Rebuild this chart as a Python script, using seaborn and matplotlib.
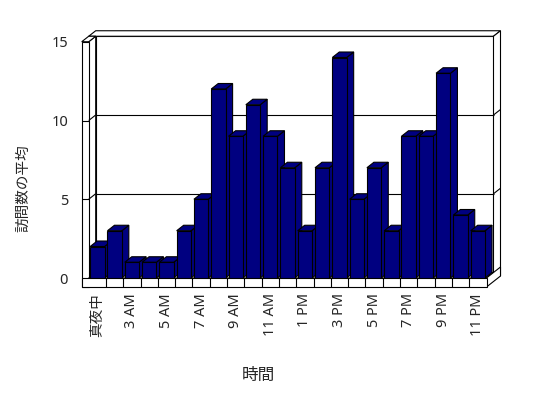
import matplotlib
matplotlib.use("Agg")
import matplotlib.pyplot as plt
from matplotlib.patches import Polygon
import seaborn as sns

# データ: 時間帯ごとの訪問数の平均
hour_labels = (["真夜中"] + [f"{h} AM" for h in range(2, 12)] + ["正午"]
               + [f"{h} PM" for h in range(1, 12)])
visits = [2, 3, 1, 1, 1, 3, 5, 12, 9, 11, 9, 7, 3, 7, 14, 5, 7, 3, 9, 9, 13, 4, 3]
y_ticks = [0, 5, 10, 15]

sns.set_style("white")
plt.rcParams["font.family"] = ["Noto Sans", "Noto Sans CJK JP", "DejaVu Sans"]

# レイアウト (ピクセル)
W, H = 548, 398
L, R, B, T = 88.7, 486.5, 278, 41.75
NAVY = "#000080"
LW = 0.8

fig = plt.figure(figsize=(W / 100, H / 100), dpi=100)
ax = fig.add_axes([L / W, 1 - B / H, (R - L) / W, (B - T) / H])

n = len(visits)
ymax = y_ticks[-1]
px_x = (R - L) / n
px_y = (B - T) / ymax
ddx, ddy = 7 / px_x, 5.5 / px_y      # 奥行き方向のずれ
tw = 7 / px_x                         # 左の壁の厚さ
ft = 9 / px_y                         # 床の厚さ

xl, xr, yt = -0.5, n - 0.5, ymax
xo = xl - tw


def face(pts, fc="white", z=0.2):
    ax.add_patch(Polygon(pts, closed=True, facecolor=fc, edgecolor="black",
                         lw=LW, clip_on=False, zorder=z, joinstyle="miter"))


def line(xs, ys, z=0.3):
    ax.plot(xs, ys, color="black", lw=LW, clip_on=False, zorder=z,
            solid_capstyle="butt")


# 棒
sns.barplot(x=hour_labels, y=visits, order=hour_labels, color=NAVY,
            saturation=1, edgecolor="black", linewidth=LW, width=0.83, ax=ax)
bars = list(ax.containers[0])

# 奥の壁
face([(xl + ddx, ddy), (xr + ddx, ddy), (xr + ddx, yt + ddy), (xl + ddx, yt + ddy)])
# 奥の壁の上面と右側面
face([(xo + ddx, yt + ddy), (xr + ddx, yt + ddy),
      (xr + 2 * ddx, yt + 2 * ddy), (xo + 2 * ddx, yt + 2 * ddy)])
face([(xr + ddx, ddy), (xr + ddx, yt + ddy),
      (xr + 2 * ddx, yt + 2 * ddy), (xr + 2 * ddx, 2 * ddy - ft)])
# 左の壁
face([(xl, 0), (xl, yt), (xl + ddx, yt + ddy), (xl + ddx, ddy)])
face([(xo, yt), (xl, yt), (xl + ddx, yt + ddy), (xo + ddx, yt + ddy)])
face([(xo, -ft), (xl, -ft), (xl, yt), (xo, yt)])
# 床
face([(xl, 0), (xr, 0), (xr + ddx, ddy), (xl + ddx, ddy)])
face([(xr, -ft), (xr, 0), (xr + 2 * ddx, 2 * ddy), (xr + 2 * ddx, 2 * ddy - ft)])
face([(xo, -ft), (xr, -ft), (xr, 0), (xo, 0)])
for k in range(1, n):
    line([xl + k, xl + k], [-ft, 0])

# 目盛線
for v in y_ticks[1:-1]:
    line([xo, xl], [v, v])
    line([xl, xl + ddx], [v, v + ddy])
    line([xl + ddx, xr + ddx], [v + ddy, v + ddy])
    line([xr + ddx, xr + 2 * ddx], [v + ddy, v + 2 * ddy])

# 棒の側面と上面
for i, p in enumerate(bars):
    x0, w, h = p.get_x(), p.get_width(), p.get_height()
    x1 = x0 + w
    z = 2 + i * 0.01
    face([(x1, 0), (x1, h), (x1 + ddx, h + ddy), (x1 + ddx, ddy)], fc=NAVY, z=z)
    face([(x0, h), (x1, h), (x1 + ddx, h + ddy), (x0 + ddx, h + ddy)], fc=NAVY, z=z)
    p.set_zorder(z + 0.005)
    p.set_joinstyle("miter")

ax.set_xlim(xl, xr)
ax.set_ylim(0, ymax)
ax.patch.set_visible(False)
for s in ax.spines.values():
    s.set_visible(False)

ax.set_yticks(y_ticks)
ax.set_yticklabels([str(v) for v in y_ticks], fontsize=10.5)
ax.set_xticks(range(0, n, 2))
ax.set_xticklabels(hour_labels[::2], fontsize=10.5)
for lab in ax.get_xticklabels():
    lab.set_rotation(90)
    lab.set_rotation_mode("anchor")
    lab.set_ha("right")
    lab.set_va("center")
ax.tick_params(axis="y", length=0, pad=14.9)
ax.tick_params(axis="x", length=0, pad=11)
ax.set_xlabel("")
ax.set_ylabel("")

fig.text(24 / W, 1 - 188 / H, "訪問数の平均", rotation=90, ha="center",
         va="center", fontsize=10.5)
fig.text(258 / W, 1 - 376 / H, "時間", ha="center", va="center", fontsize=12)

fig.savefig("out.png", dpi=100)
